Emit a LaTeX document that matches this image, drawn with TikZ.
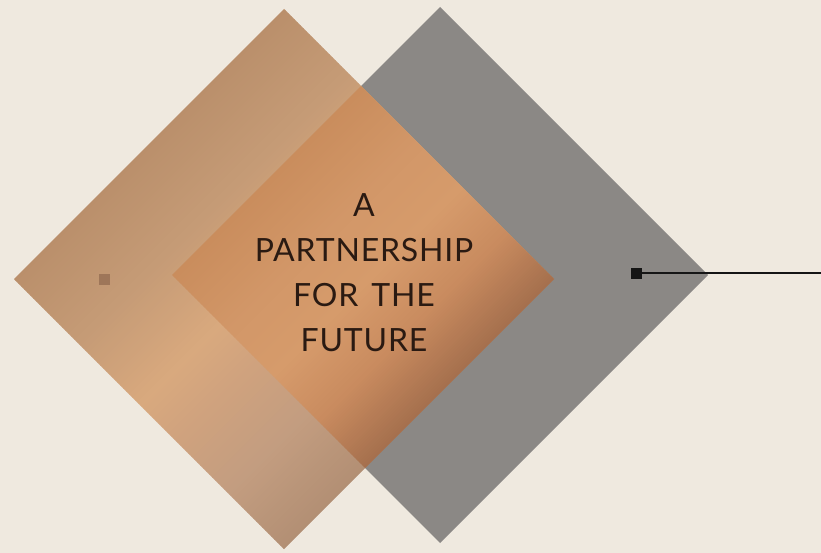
\documentclass[tikz,border=0pt]{standalone}
\usepackage{fontspec}
\setmainfont{Lato}
\newfontfamily\titlefont[LetterSpace=2.5]{Lato}
\definecolor{bgc}{HTML}{EFE9DF}
\definecolor{grayd}{HTML}{8B8885}
\definecolor{txtc}{HTML}{2A1A12}
\definecolor{dotc}{HTML}{9E7659}
\definecolor{linec}{HTML}{151515}
\definecolor{LA}{HTML}{B98E6A}
\definecolor{LB}{HTML}{C59B76}
\definecolor{LC}{HTML}{D9A97E}
\definecolor{LD}{HTML}{CFA27E}
\definecolor{LE}{HTML}{C39D80}
\definecolor{LF}{HTML}{B08D72}
\definecolor{OA}{HTML}{C98C5C}
\definecolor{OB}{HTML}{D29768}
\definecolor{OC}{HTML}{D69B6B}
\definecolor{OD}{HTML}{C98B5F}
\definecolor{OE}{HTML}{A06C4B}
\newcommand\gradband[4]{%
  \pgfmathtruncatemacro\nst{(#2-#1)/3}%
  \foreach \i in {1,...,\nst}{%
    \pgfmathsetmacro\sa{#1+(#2-#1)*(\i-1)/\nst}%
    \pgfmathsetmacro\sb{#1+(#2-#1)*\i/\nst+0.8}%
    \pgfmathtruncatemacro\pc{100*(\i-0.5)/\nst}%
    \colorlet{stc}{#4!\pc!#3}%
    \fill[stc] ({\sa+50},-50) -- ({\sb+50},-50) -- ({\sb-650},650) -- ({\sa-650},650) -- cycle;
  }%
}
\tikzset{
  sqmark/.style={rectangle,inner sep=0pt,minimum size=11pt,draw=none},
  title/.style={align=center,text=txtc,inner sep=0pt,font=\titlefont\fontsize{32}{45}\selectfont}
}
\begin{document}
\begin{tikzpicture}[x=1pt,y=-1pt]
\fill[bgc] (0,0) rectangle (821,553);
\useasboundingbox (0,0) rectangle (821,553);
% gray diamond
\fill[grayd] (440,7) -- (708,275) -- (440,543) -- (172,275) -- cycle;
% left copper diamond
\begin{scope}
\clip (284,9) -- (554,279) -- (284,549) -- (14,279) -- cycle;
\foreach \ta/\tb/\ca/\cb in {280/420/LA/LB,420/545/LB/LC,545/620/LC/LD,620/720/LD/LE,720/850/LE/LF}{\gradband{\ta}{\tb}{\ca}{\cb}}
\end{scope}
% overlap
\begin{scope}
\clip (284,9) -- (554,279) -- (284,549) -- (14,279) -- cycle;
\clip (440,7) -- (708,275) -- (440,543) -- (172,275) -- cycle;
\foreach \ta/\tb/\ca/\cb in {440/560/OA/OB,560/650/OB/OC,650/740/OC/OD,740/845/OD/OE}{\gradband{\ta}{\tb}{\ca}{\cb}}
\end{scope}
% marks
\node[sqmark,fill=dotc] (ldot) at (104,279) {};
\node[sqmark,fill=linec] (rdot) at (636,273) {};
\coordinate (lineend) at (821,273);
\draw[linec,line width=2.6pt] (rdot.center) -- (lineend);
% title
\node[title,anchor=north] (ttl) at (364,193) {A\\PARTNERSHIP\\FOR\hspace{4pt} THE\\FUTURE};
\end{tikzpicture}
\end{document}
